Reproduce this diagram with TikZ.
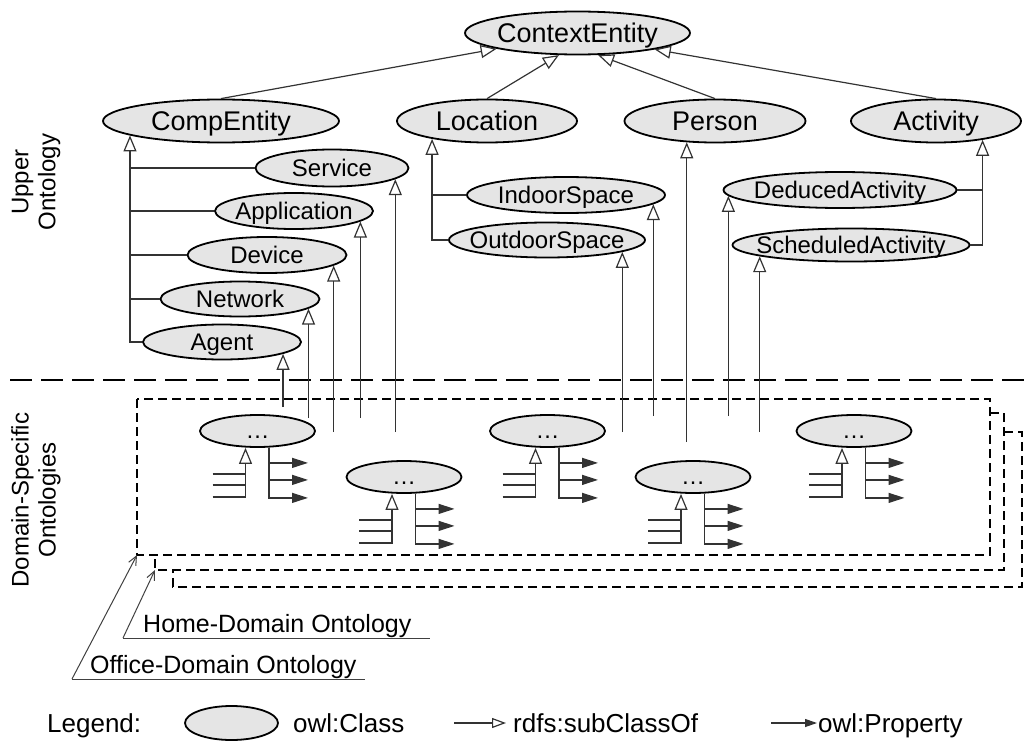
\documentclass[tikz,border=0pt]{standalone}
\usepackage{fontspec}
\setmainfont{Liberation Sans}
\usetikzlibrary{arrows.meta,shapes.geometric,calc,positioning}

\tikzset{
  cls/.style={ellipse,draw,line width=1.8pt,fill=black!10,inner sep=0pt,
    execute at begin node={\hbox to 0pt\bgroup\hss},
    execute at end node={\hss\egroup}},
  lvlone/.style={cls,minimum height=43pt,text height=19.3pt,text depth=0pt,
    font=\fontsize{27}{30}\selectfont},
  lvltwo/.style={cls,text height=17.2pt,text depth=0pt,font=\fontsize{24}{27}\selectfont},
  domcls/.style={cls,minimum width=115pt,minimum height=32pt,text height=14pt,text depth=0pt,
    font=\fontsize{24}{27}\selectfont},
  link/.style={line width=1.2pt,black!80},
  subarr/.style={link,-{Triangle[open,length=16pt,width=13pt,line width=1.2pt]}},
  proparr/.style={link,-{Triangle[length=16pt,width=10pt]}},
  lead/.style={line width=1pt,black!75,-{Straight Barb[length=9pt,width=8pt]}},
  domainbox/.style={line width=2.5pt,dash pattern=on 9pt off 5pt},
  sep/.style={line width=2.8pt,dash pattern=on 22pt off 9pt},
  side/.style={rotate=90,align=center,font=\fontsize{24}{27}\selectfont},
  txt/.style={font=\fontsize{25}{30}\selectfont,inner sep=0pt},
  legtxt/.style={txt,anchor=base west,font=\fontsize{26}{30}\selectfont}
}

\begin{document}
\begin{tikzpicture}[x=1pt,y=-1pt]
  \useasboundingbox (0,0) rectangle (1025,741);

  % upper ontology
  \node[lvlone,minimum width=225pt] (ctx) at (577.5,33) {ContextEntity};
  \node[lvlone,minimum width=236pt] (comp) at (221,121) {CompEntity};
  \node[lvlone,minimum width=180pt] (loc) at (487,121) {Location};
  \node[lvlone,minimum width=181pt] (pers) at (715,121) {Person};
  \node[lvlone,minimum width=170pt] (act) at (936,121) {Activity};

  \draw[subarr] (comp.north) -- (ctx.191);
  \draw[subarr] (loc.north) -- (ctx.-130);
  \draw[subarr] (pers.north) -- (ctx.-47);
  \draw[subarr] (act.north) -- (ctx.-12);

  % CompEntity subclasses
  \node[lvltwo,minimum width=153pt,minimum height=37pt] (svc) at (332,168) {Service};
  \node[lvltwo,minimum width=158pt,minimum height=36pt] (app) at (294,211) {Application};
  \node[lvltwo,minimum width=159pt,minimum height=36pt] (dev) at (267,255) {Device};
  \node[lvltwo,minimum width=159pt,minimum height=35pt] (net) at (240,299) {Network};
  \node[lvltwo,minimum width=158pt,minimum height=35pt] (agt) at (222,342) {Agent};
  \draw[subarr] (agt.west) -| (comp.-171);
  \foreach \n in {svc,app,dev,net}
    \draw[link] (\n.west) -- (\n.west -| comp.-171);

  % Location subclasses
  \node[lvltwo,minimum width=198pt,minimum height=36pt] (indoor) at (566,195) {IndoorSpace};
  \node[lvltwo,minimum width=196pt,minimum height=35pt] (outdoor) at (547,240) {OutdoorSpace};
  \draw[subarr] (outdoor.west) -| (loc.-162);
  \draw[link] (indoor.west) -- (indoor.west -| loc.-162);

  % Activity subclasses
  \node[lvltwo,minimum width=233pt,minimum height=36pt] (deduced) at (840,190) {DeducedActivity};
  \node[lvltwo,minimum width=237pt,minimum height=33pt] (sched) at (851,245) {ScheduledActivity};
  \draw[subarr] (sched.east) -| (act.-22);
  \draw[link] (deduced.east) -- (deduced.east -| act.-22);

  % separator
  \draw[sep] (10,380) -- (1025,380);
  \node[side] (upperlbl) at (36,182) {Upper\\Ontology};
  \node[side] (domlbl) at (36,500) {Domain-Specific\\Ontologies};

  % domain-specific boxes
  \coordinate (ofc) at (137,555);
  \coordinate (hom) at (155,570);
  \draw[domainbox] (137,399) rectangle (990,555);
  \draw[domainbox] (990,413) -- (1004,413) -- (1004,570) -- (hom) -- (155,555);
  \draw[domainbox] (1004,432) -- (1022,432) -- (1022,587) -- (173,587) -- (173,570);

  % links from domain classes up to the upper ontology
  \foreach \n/\a/\y in {agt/-11/407,net/-8/418,dev/-9/432,app/-9/418,svc/-10/432,
      outdoor/-9/432,indoor/-6/416,pers/-143/442,deduced/183/416,sched/-173/432}
    \draw[subarr] (\n.\a |- 0,\y) -- (\n.\a);

  % domain classes
  \foreach \i/\x/\y in {1/257.5/431,2/404/477,3/547.5/431,4/693/477,5/854/431}{
    \node[domcls] (d\i) at (\x,\y) {\ldots};
    \draw[subarr] ($(d\i.south)+(-45,49)$) -| ($(d\i.south)+(-12,0)$);
    \foreach \k in {26,37}
      \draw[link] ($(d\i.south)+(-45,\k)$) -- ++(33,0);
    \draw[proparr] ($(d\i.south)+(11.5,0)$) |- ($(d\i.south)+(50.5,50)$);
    \foreach \k in {15,32}
      \draw[proparr] ($(d\i.south)+(11.5,\k)$) -- ++(39,0);
  }

  % box labels
  \node[txt,anchor=base west] (homelbl) at (143,632) {Home-Domain Ontology};
  \node[txt,anchor=base west] (ofclbl) at (90,673) {Office-Domain Ontology};
  \coordinate (homeul) at (123,638);
  \coordinate (ofcul) at (72,679);
  \draw[line width=1pt,black!75] (homeul) -- (homeul -| 430,0);
  \draw[line width=1pt,black!75] (ofcul) -- (ofcul -| 365,0);
  \draw[lead] (homeul) -- (hom);
  \draw[lead] (ofcul) -- (ofc);

  % legend
  \node[legtxt] (leg) at (47,732) {Legend:};
  \node[cls,minimum width=93pt,minimum height=34pt] (legcls) at (231.5,723) {};
  \node[legtxt] (legclstxt) at (293,732) {owl:Class};
  \coordinate (legsub) at (454,723);
  \draw[link,-{Triangle[open,length=14pt,width=10pt,line width=1.2pt]}] (legsub) -- ++(52,0);
  \node[legtxt] (legsubtxt) at (513,732) {rdfs:subClassOf};
  \coordinate (legprop) at (771,723);
  \draw[link,-{Triangle[length=12pt,width=8pt]}] (legprop) -- ++(46,0);
  \node[legtxt] (legproptxt) at (818,732) {owl:Property};
\end{tikzpicture}
\end{document}
